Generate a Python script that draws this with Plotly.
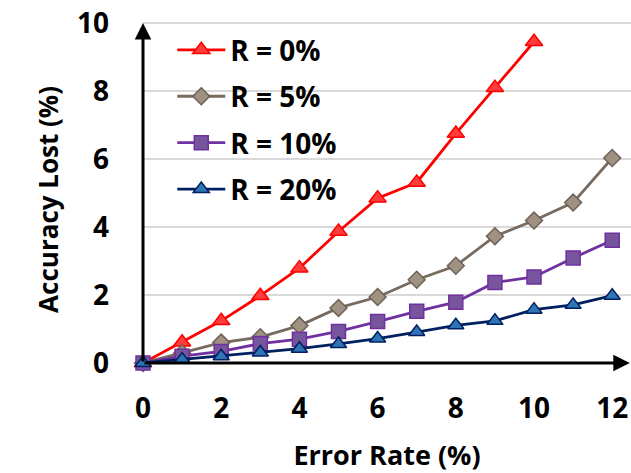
import plotly.graph_objects as go

error_rate = [0, 1, 2, 3, 4, 5, 6, 7, 8, 9, 10, 11, 12]
series_names = ["R = 0%", "R = 5%", "R = 10%", "R = 20%"]
r0 = [0, 0.61, 1.24, 1.98, 2.79, 3.87, 4.85, 5.31, 6.75, 8.1, 9.45]
r5 = [0, 0.29, 0.6, 0.76, 1.1, 1.62, 1.94, 2.45, 2.86, 3.73, 4.19, 4.72, 6.03]
r10 = [0, 0.2, 0.34, 0.57, 0.7, 0.93, 1.22, 1.52, 1.79, 2.37, 2.53, 3.09, 3.61]
r20 = [0, 0.1, 0.2, 0.31, 0.42, 0.56, 0.72, 0.91, 1.11, 1.24, 1.57, 1.71, 1.98]
x_ticks = [0, 2, 4, 6, 8, 10, 12]
y_ticks = [0, 2, 4, 6, 8, 10]
x_title = "Error Rate (%)"
y_title = "Accuracy Lost (%)"

styles = [
    dict(line="#FF0000", fill="#FF3B3B", edge="#FF0000", symbol="triangle-up", size=15),
    dict(line="#776B5F", fill="#A09282", edge="#6E6256", symbol="diamond", size=13),
    dict(line="#7030A0", fill="#76559C", edge="#7030A0", symbol="square", size=14),
    dict(line="#002060", fill="#2E75B6", edge="#002060", symbol="triangle-up", size=14),
]
values = [r0, r5, r10, r20]

FONT = "Open Sans"
fig = go.Figure()
for i, (name, ys, st) in enumerate(zip(series_names, values, styles)):
    fig.add_trace(go.Scatter(
        x=error_rate[:len(ys)], y=ys, name=name, mode="lines+markers",
        legendgroup=f"g{i}",
        line=dict(color=st["line"], width=2.8),
        marker=dict(symbol=st["symbol"], size=st["size"], color=st["fill"],
                    line=dict(color=st["edge"], width=1.5)),
        cliponaxis=False,
    ))

XMAX = 12.48
YMAX = 10.09
fig.update_layout(
    width=631, height=473,
    margin=dict(l=143, r=0, t=20, b=110),
    plot_bgcolor="white", paper_bgcolor="white",
    font=dict(family=FONT, color="black"),
    legend=dict(x=0.06, y=0.985, xanchor="left", yanchor="top",
                font=dict(family=FONT, size=28, color="black", weight="bold"),
                bgcolor="rgba(0,0,0,0)", traceorder="grouped", tracegroupgap=7,
                itemwidth=48),
    xaxis=dict(range=[0, XMAX], tickvals=x_ticks, showgrid=False, zeroline=False,
               showline=False, ticks="", ticklabelstandoff=26, automargin=False,
               ticklabeloverflow="allow",
               tickfont=dict(family=FONT, size=28, weight="bold"),
               title=dict(text=x_title, standoff=30,
                          font=dict(family=FONT, size=27, weight="bold"))),
    yaxis=dict(range=[0, YMAX], tickvals=y_ticks, showgrid=True, gridcolor="#D9D9D9",
               gridwidth=1.5, zeroline=False, showline=False, ticks="",
               ticklabelstandoff=33, automargin=False,
               ticklabeloverflow="allow",
               tickfont=dict(family=FONT, size=28, weight="bold")),
)

# y-axis title placed to match the reference's vertical position
fig.add_annotation(text=y_title, textangle=-90, xref="paper", yref="paper",
                   x=-0.195, y=0.478, xanchor="center", yanchor="middle", showarrow=False,
                   font=dict(family=FONT, size=26, weight="bold", color="black"))

# axis arrows
fig.add_annotation(x=XMAX - 0.03, y=0, ax=0, ay=0, xref="x", yref="y", axref="x", ayref="y",
                   showarrow=True, arrowhead=2, arrowsize=1.1, arrowwidth=3, arrowcolor="black", text="")
fig.add_annotation(x=0, y=10.0, ax=0, ay=0, xref="x", yref="y", axref="x", ayref="y",
                   showarrow=True, arrowhead=2, arrowsize=1.1, arrowwidth=3, arrowcolor="black", text="")

fig.write_html("out.html", config={"displayModeBar": False},
               post_script="document.body.style.margin='0';document.body.style.overflow='hidden';")
